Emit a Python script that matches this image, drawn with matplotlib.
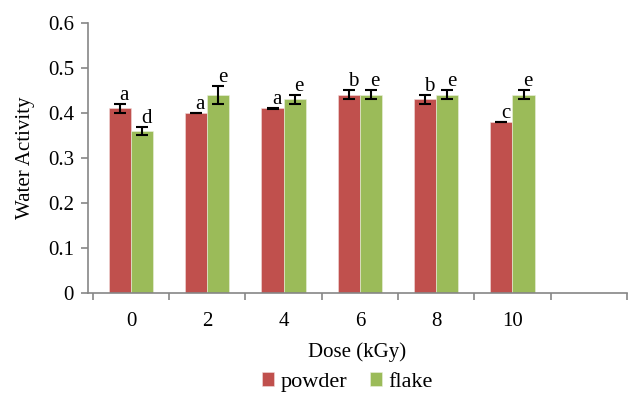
import numpy as np
import matplotlib as mpl
import matplotlib.pyplot as plt

plt.rcParams['font.family'] = ['Liberation Serif', 'DejaVu Serif']

# %%
doses = ["0", "2", "4", "6", "8", "10"]
powder = [0.41, 0.40, 0.41, 0.44, 0.43, 0.38]
powder_err = [0.010, 0.0005, 0.0005, 0.010, 0.010, 0.0005]
flake = [0.36, 0.44, 0.43, 0.44, 0.44, 0.44]
flake_err = [0.008, 0.020, 0.010, 0.010, 0.010, 0.010]
powder_letters = ["a", "a", "a", "b", "b", "c"]
flake_letters = ["d", "e", "e", "e", "e", "e"]

red = '#C0504D'
green = '#9BBB59'
axis_grey = '#868686'
fs = 15

# %%
fig = plt.figure(figsize=(6.32, 3.96), dpi=100)
ax = fig.add_axes([0.139, 0.260, 0.853, 0.682])

x = np.arange(len(doses))
w = 0.29

ax.bar(x - w/2, powder, w, color=red, edgecolor='#F2DCDB', linewidth=0.4,
       label='powder', zorder=2)
ax.bar(x + w/2, flake, w, color=green, edgecolor='#EBF1DE', linewidth=0.4,
       label='flake', zorder=2)
ax.errorbar(x - w/2, powder, yerr=powder_err, fmt='none', ecolor='k',
            elinewidth=1.5, capsize=4.5, capthick=1.5, zorder=3)
ax.errorbar(x + w/2, flake, yerr=flake_err, fmt='none', ecolor='k',
            elinewidth=1.5, capsize=4.5, capthick=1.5, zorder=3)

for xi, v, e, s in zip(x - w/2, powder, powder_err, powder_letters):
    ax.annotate(s, (xi, v + e), xytext=(3, 3), textcoords='offset points',
                ha='center', va='baseline', fontsize=fs)
for xi, v, e, s in zip(x + w/2, flake, flake_err, flake_letters):
    ax.annotate(s, (xi, v + e), xytext=(3, 3), textcoords='offset points',
                ha='center', va='baseline', fontsize=fs)

# one empty category slot after 10, like the original
ax.set_xlim(-0.565, 6.5)
ax.set_ylim(0, 0.6)
ax.set_yticks(np.arange(0, 0.61, 0.1))
ax.set_yticklabels(["0"] + [f"{t:.1f}" for t in np.arange(0.1, 0.61, 0.1)])
ax.set_xticks(x)
ax.set_xticklabels(doses)
ax.set_xticks(np.arange(-0.5, 6.6, 1), minor=True)
ax.tick_params(axis='x', which='major', length=0, pad=14, labelsize=fs)
ax.tick_params(axis='x', which='minor', length=5, width=1.2, color=axis_grey)
ax.tick_params(axis='y', length=5, width=1.2, color=axis_grey, labelsize=fs, pad=5)

for side in ['top', 'right']:
    ax.spines[side].set_visible(False)
for side in ['left', 'bottom']:
    ax.spines[side].set_color(axis_grey)
    ax.spines[side].set_linewidth(1.2)

ax.set_xlabel("Dose (kGy)", fontsize=fs, labelpad=8)
ax.set_ylabel("Water Activity", fontsize=fs, labelpad=9)

fig.legend(loc='lower center', bbox_to_anchor=(0.55, -0.04), ncol=2,
           frameon=False, fontsize=16, handlelength=0.55, handleheight=0.55,
           handletextpad=0.3, columnspacing=1.0)

fig.savefig('out.png', dpi=100)
